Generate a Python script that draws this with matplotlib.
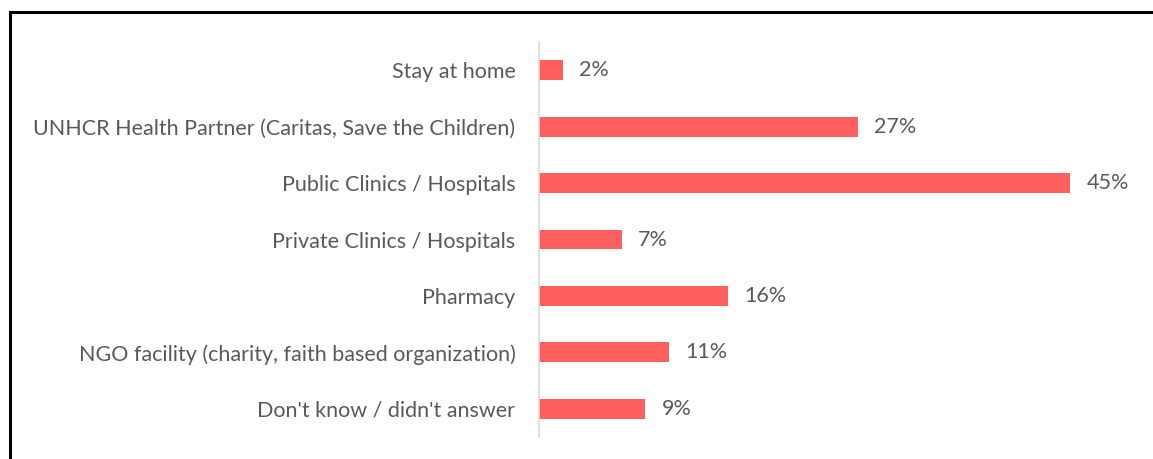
import matplotlib.pyplot as plt
from matplotlib.patches import Rectangle

plt.rcParams['font.family'] = ['Lato', 'DejaVu Sans']

categories = [
    'Stay at home',
    'UNHCR Health Partner (Caritas, Save the Children)',
    'Public Clinics / Hospitals',
    'Private Clinics / Hospitals',
    'Pharmacy',
    'NGO facility (charity, faith based organization)',
    "Don't know / didn't answer",
]
values = [2, 27, 45, 7, 16, 11, 9]

bar_color = '#FF5F5F'
text_color = '#595959'

fig = plt.figure(figsize=(11.53, 4.59), dpi=100)
ax = fig.add_axes([539 / 1153, 1 - 437 / 459, 590 / 1153, 395 / 459])

pos = list(range(len(categories)))
ax.barh(pos, values, height=0.35, color=bar_color)
for p, v in zip(pos, values):
    ax.text(v + 1.4, p, '%d%%' % v, va='center', ha='left',
            fontsize=15.5, color=text_color)

ax.set_xlim(0, 50)
ax.set_ylim(len(categories) - 0.5, -0.5)
ax.set_yticks(pos)
ax.set_yticklabels(categories, fontsize=15.5, color=text_color)
ax.tick_params(axis='y', length=0, pad=17)
ax.set_xticks([])
for s in ('top', 'right', 'bottom'):
    ax.spines[s].set_visible(False)
ax.spines['left'].set_color('#D9D9D9')
ax.spines['left'].set_linewidth(1.2)

# frame around the chart, running off the right and bottom edges
fig.patches.append(Rectangle((9.5 / 1153, -0.05), 1.1, 1 - 11.5 / 459 + 0.05,
                             transform=fig.transFigure, fill=False,
                             edgecolor='black', linewidth=2.2))

fig.savefig('out.png', dpi=100)
